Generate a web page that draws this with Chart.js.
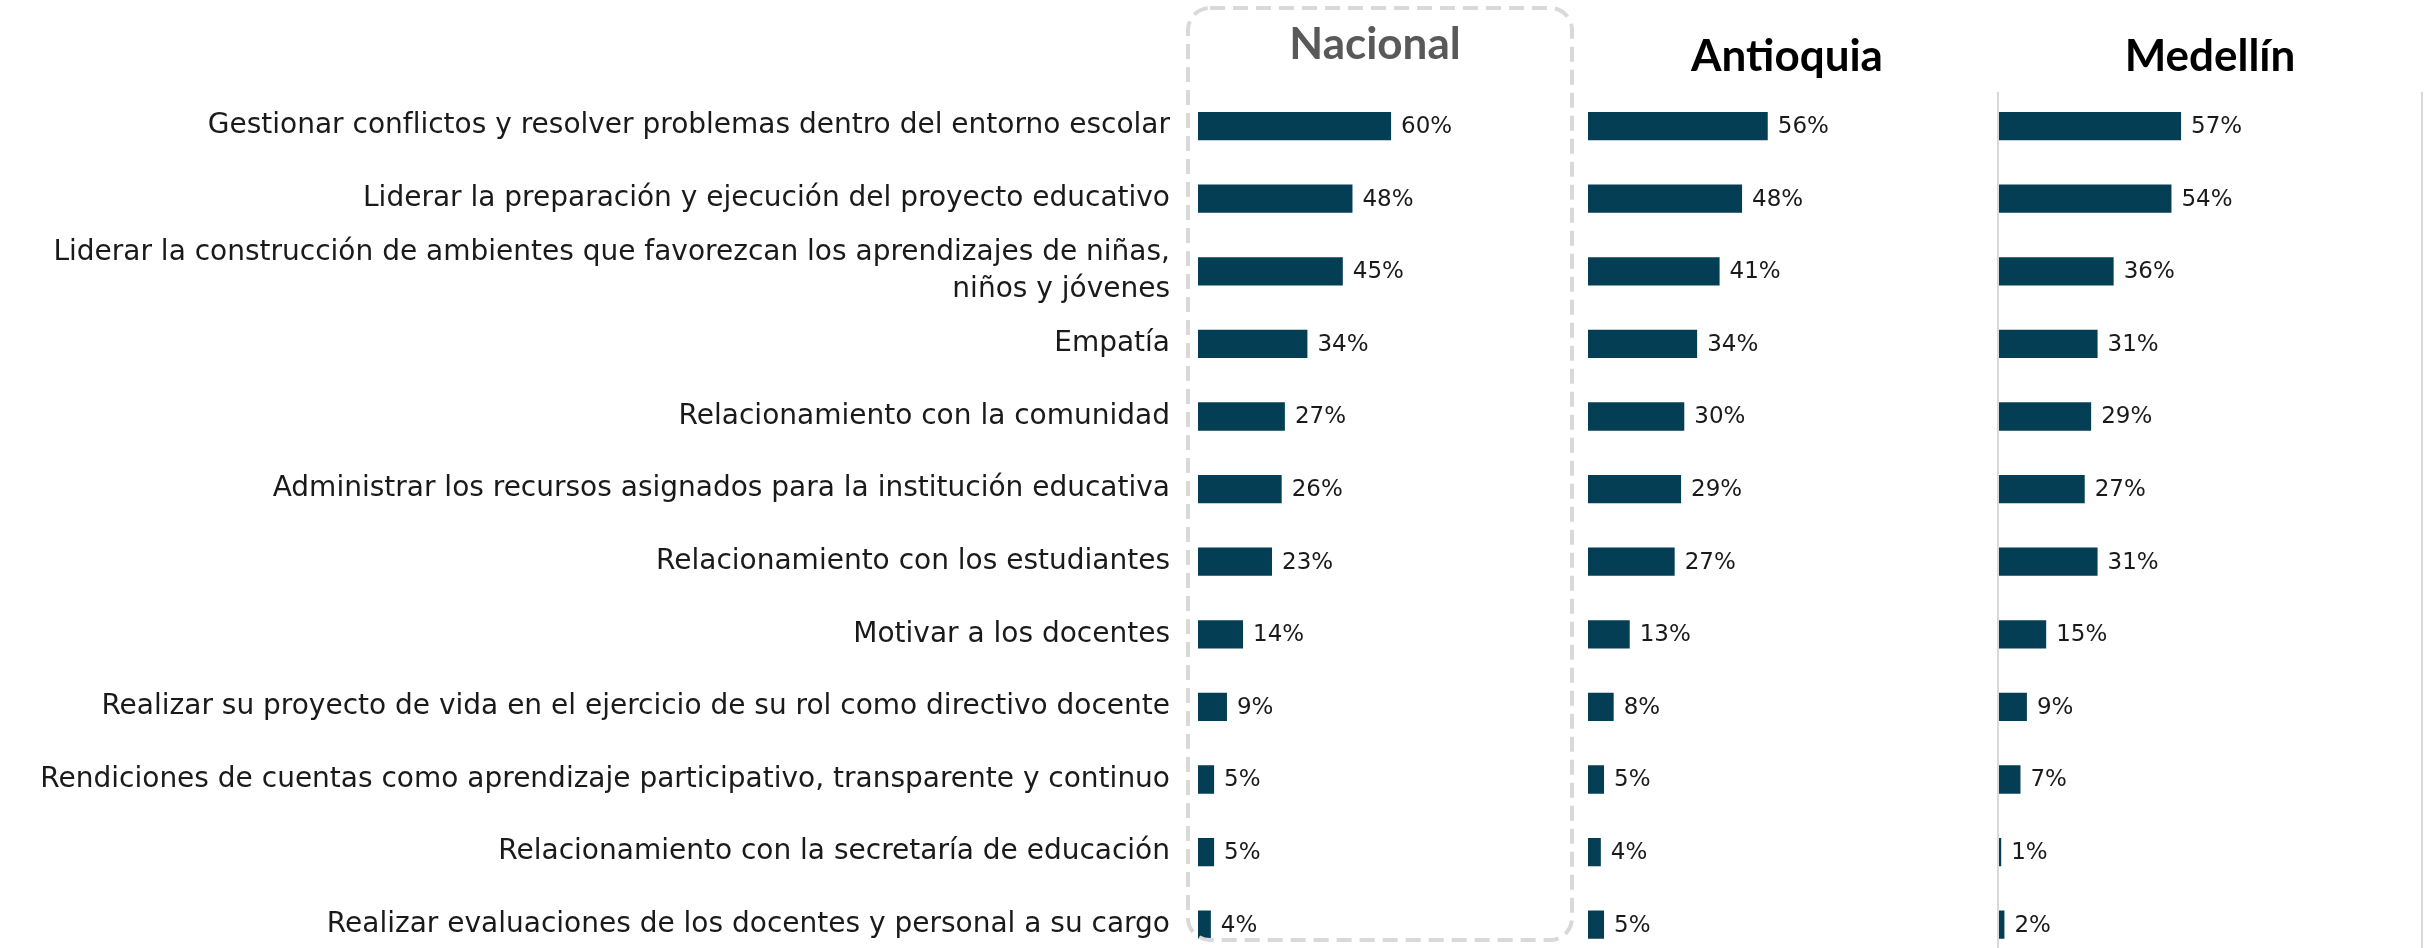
<!DOCTYPE html>
<html lang="es">
<head>
<meta charset="utf-8">
<title>Competencias directivos docentes</title>
<script src="https://cdn.jsdelivr.net/npm/chart.js@4.4.1/dist/chart.umd.min.js"></script>
<style>
  html, body { margin: 0; padding: 0; background: #fff; overflow: hidden; }
  #wrap { position: relative; width: 2431px; height: 948px; overflow: hidden; }
  .panel { position: absolute; top: 0; height: 961px; }
  #panel-nacional  { left: 0;      width: 1580px; }
  #panel-antioquia { left: 1588px; width: 400px; }
  #panel-medellin  { left: 1990px; width: 441px; }
</style>
</head>
<body>
<div id="wrap">
  <div class="panel" id="panel-nacional"><canvas id="chart-nacional"></canvas></div>
  <div class="panel" id="panel-antioquia"><canvas id="chart-antioquia"></canvas></div>
  <div class="panel" id="panel-medellin"><canvas id="chart-medellin"></canvas></div>
</div>

<script>
/* ─── DATA ─── */
const categories = [
  'Gestionar conflictos y resolver problemas dentro del entorno escolar',
  'Liderar la preparación y ejecución del proyecto educativo',
  ['Liderar la construcción de ambientes que favorezcan los aprendizajes de niñas,', 'niños y jóvenes'],
  'Empatía',
  'Relacionamiento con la comunidad',
  'Administrar los recursos asignados para la institución educativa',
  'Relacionamiento con los estudiantes',
  'Motivar a los docentes',
  'Realizar su proyecto de vida en el ejercicio de su rol como directivo docente',
  'Rendiciones de cuentas como aprendizaje participativo, transparente y continuo',
  'Relacionamiento con la secretaría de educación',
  'Realizar evaluaciones de los docentes y personal a su cargo'
];

const nacional  = [60, 48, 45, 34, 27, 26, 23, 14, 9, 5, 5, 4];
const antioquia = [56, 48, 41, 34, 30, 29, 27, 13, 8, 5, 4, 5];
const medellin  = [57, 54, 36, 31, 29, 27, 31, 15, 9, 7, 1, 2];

const panelTitles = ['Nacional', 'Antioquia', 'Medellín'];
const panelMax    = [110, 124, 132];

/* ─── STYLE ─── */
const BAR_COLOR  = '#043E54';
const TEXT_COLOR = '#1a1a1a';
const LINE_GREY  = '#d9d9d9';
const LABEL_FONT = 'DejaVu Sans';
const TITLE_FONT = 'Lato';

/* ─── PLUGINS ─── */
// value labels at the end of each bar
const valueLabels = {
  id: 'valueLabels',
  afterDatasetsDraw(chart) {
    const { ctx } = chart;
    const meta = chart.getDatasetMeta(0);
    const values = chart.data.datasets[0].data;
    ctx.save();
    ctx.font = `23px "${LABEL_FONT}"`;
    ctx.fillStyle = TEXT_COLOR;
    ctx.textAlign = 'left';
    ctx.textBaseline = 'middle';
    meta.data.forEach((bar, i) => {
      ctx.fillText(values[i] + '%', bar.x + 10, bar.y + 1);
    });
    ctx.restore();
  }
};

// dashed rounded frame that highlights the national panel
const dashedFrame = {
  id: 'dashedFrame',
  afterDraw(chart, args, opts) {
    if (!opts.show) return;
    const { ctx, chartArea } = chart;
    const left = chartArea.left - 10;
    const right = chartArea.right + 20;
    ctx.save();
    ctx.strokeStyle = LINE_GREY;
    ctx.lineWidth = 4;
    ctx.setLineDash([15, 8]);
    ctx.beginPath();
    ctx.roundRect(left, 8, right - left, 932, 22);
    ctx.stroke();
    ctx.restore();
  }
};

// light vertical rules on the sides of the plot area
const sideRules = {
  id: 'sideRules',
  afterDraw(chart, args, opts) {
    if (!opts.show) return;
    const { ctx, chartArea } = chart;
    ctx.save();
    ctx.strokeStyle = LINE_GREY;
    ctx.lineWidth = 2;
    [chartArea.left, chartArea.right].forEach(x => {
      ctx.beginPath();
      ctx.moveTo(x, chartArea.top + 2);
      ctx.lineTo(x, chart.height);
      ctx.stroke();
    });
    ctx.restore();
  }
};

/* ─── BUILD PANEL ─── */
function buildPanel(canvasId, idx, values, cfg) {
  return new Chart(document.getElementById(canvasId), {
    type: 'bar',
    data: {
      labels: categories,
      datasets: [{
        data: values,
        backgroundColor: BAR_COLOR,
        borderWidth: 0,
        barPercentage: 0.39,
        categoryPercentage: 1
      }]
    },
    plugins: [valueLabels, dashedFrame, sideRules],
    options: {
      indexAxis: 'y',
      responsive: true,
      maintainAspectRatio: false,
      animation: false,
      layout: { padding: cfg.padding },
      plugins: {
        legend: { display: false },
        tooltip: { enabled: false },
        title: {
          display: true,
          text: panelTitles[idx],
          fullSize: false,
          color: cfg.titleColor,
          font: { family: TITLE_FONT, size: 44, weight: 'bold' },
          padding: cfg.titlePadding
        },
        dashedFrame: { show: !!cfg.frame },
        sideRules: { show: !!cfg.rules }
      },
      scales: {
        x: { display: false, min: 0, max: panelMax[idx] },
        y: cfg.showLabels ? {
          grid: { display: false, drawTicks: false },
          border: { display: false },
          ticks: {
            color: TEXT_COLOR,
            autoSkip: false,
            padding: 28,
            font: { family: LABEL_FONT, size: 28, lineHeight: 1.3 }
          },
          afterFit: s => {
            s.width = 1198;
            s.paddingTop = 0;
            s.paddingBottom = 0;
          }
        } : { display: false }
      }
    }
  });
}

/* ─── INIT ─── */
buildPanel('chart-nacional', 0, nacional, {
  padding: { left: 0, right: 28, top: 0, bottom: 0 },
  titleColor: '#595959',
  titlePadding: { top: 18, bottom: 19 },
  showLabels: true,
  frame: true
});

buildPanel('chart-antioquia', 1, antioquia, {
  padding: { left: 0, right: 2, top: 0, bottom: 0 },
  titleColor: '#000000',
  titlePadding: { top: 30, bottom: 7 }
});

buildPanel('chart-medellin', 2, medellin, {
  padding: { left: 8, right: 9, top: 0, bottom: 0 },
  titleColor: '#000000',
  titlePadding: { top: 30, bottom: 7 },
  rules: true
});
</script>
</body>
</html>
